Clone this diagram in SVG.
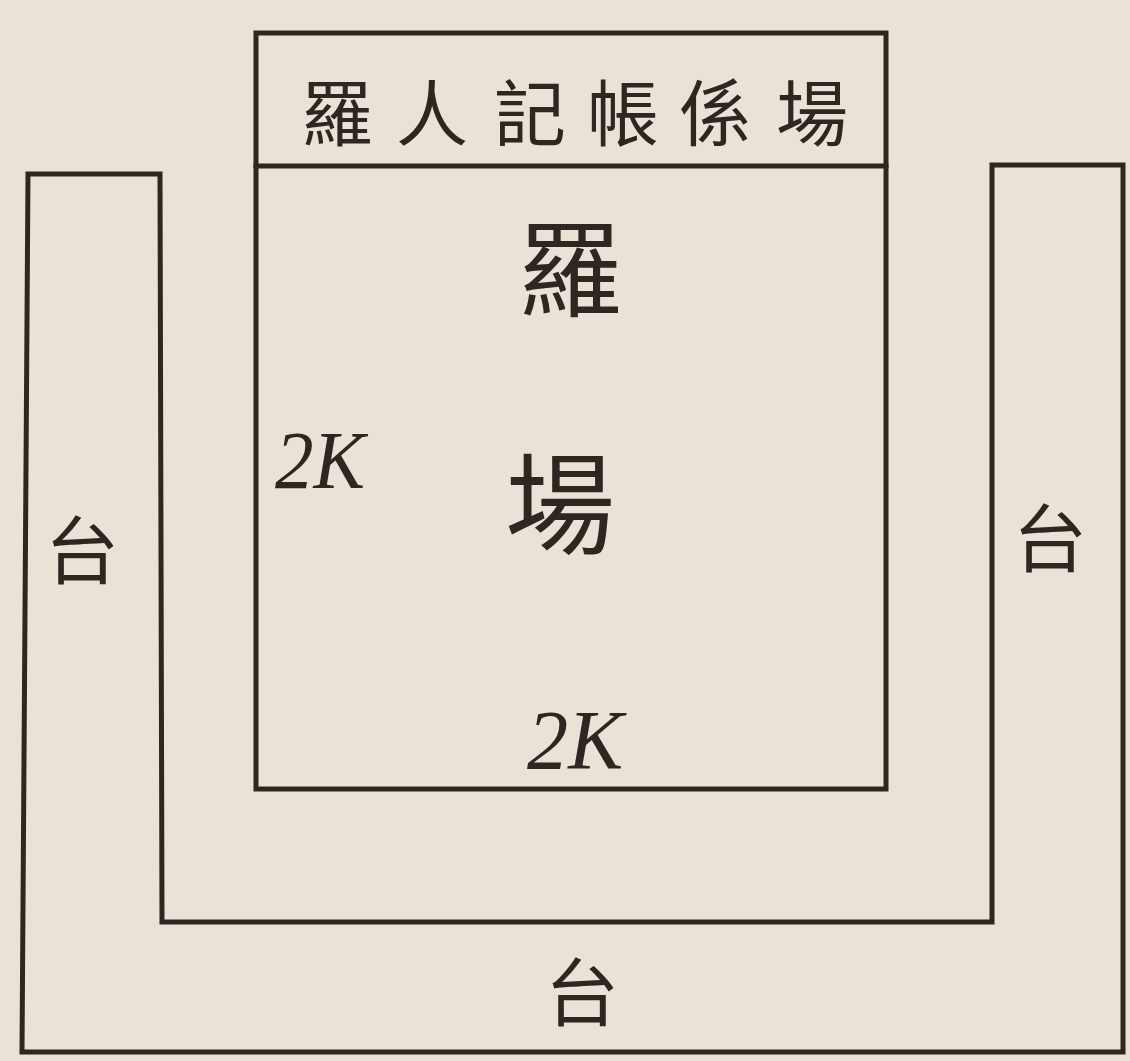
<svg xmlns="http://www.w3.org/2000/svg" width="1130" height="1061" viewBox="0 0 1130 1061">
<style>
.ln{fill:none;stroke:#2f2622;stroke-width:5;stroke-linejoin:miter;stroke-linecap:square}
.cj{font-family:"Noto Sans CJK TC","Noto Sans CJK JP",serif;fill:#2f2622;text-anchor:middle;dominant-baseline:central}
.lat{font-family:"Liberation Serif",serif;font-style:italic;fill:#2f2622}
</style>
<rect width="1130" height="1061" fill="#e9e3d7"/>
<g id="stage">
<path class="ln" d="M160,174 L28,174 L22,1052 L1123,1052 L1123,165 L992,165 L992,922 L162,922 Z"/>
<text class="cj" x="82" y="545" font-size="74">台</text>
<text class="cj" x="1050" y="533" font-size="74">台</text>
<text class="cj" x="582" y="987" font-size="74">台</text>
</g>
<g id="arena">
<rect class="ln" x="256" y="33" width="630" height="756"/>
<line class="ln" x1="256" y1="166" x2="886" y2="166"/>
<text class="cj" x="570" y="262" font-size="105">羅</text>
<text class="cj" x="560" y="498" font-size="110">場</text>
<text class="lat" x="275" y="488" font-size="82" textLength="90" lengthAdjust="spacingAndGlyphs">2K</text>
<text class="lat" x="527" y="769" font-size="84" textLength="96" lengthAdjust="spacingAndGlyphs">2K</text>
</g>
<g id="header">
<text class="cj" y="108" font-size="72" x="337 432 530 623 715 812">羅人記帳係場</text>
</g>
<g id="connectors"/>
</svg>
